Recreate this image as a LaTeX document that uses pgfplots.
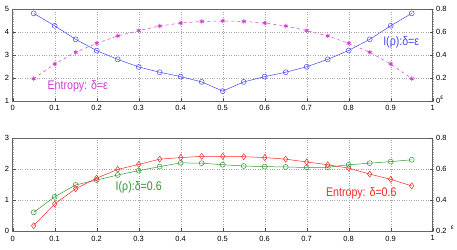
\documentclass[border=0pt]{standalone}
\usepackage{pgfplots}
\pgfplotsset{compat=1.18}
\usepackage{fontspec}
\setmainfont{Liberation Sans}
\definecolor{cblue}{RGB}{70,70,255}
\definecolor{cmag}{RGB}{210,60,210}
\definecolor{cred}{RGB}{255,40,40}
\definecolor{cgreen}{RGB}{50,150,50}
\pgfplotsset{
  base/.style={
    scale only axis, width=420pt,
    xmin=0, xmax=1,
    xtick={0,0.1,...,1},
    xticklabels={0,0.1,0.2,0.3,0.4,0.5,0.6,0.7,0.8,0.9,1},
    tick align=inside,
    major tick length=3pt,
    tick style={black!70, line width=0.4pt},
    axis line style={black!60, line width=0.8pt},
    ticklabel style={font=\fontsize{7.5}{8}\selectfont},
    /pgf/number format/assume math mode=true,
    grid=major,
    major grid style={black!35, dotted, line width=0.4pt},
    xtick pos=bottom,
    ytick pos=left,
    xticklabel style={yshift=-1pt},
  },
  every axis plot/.append style={line width=0.5pt},
}
\begin{document}
\begin{tikzpicture}
\path[use as bounding box] (0pt,0pt) rectangle (457pt,-249pt);
% ---------- top ----------
\begin{axis}[base, height=92pt, at={(12.7pt,-101pt)}, anchor=south west,
  ymin=1, ymax=5, ytick={1,2,3,4,5}, clip=false]
\addplot[color=cblue, mark=o, mark size=2.5pt] coordinates {
(0.05,4.81)(0.10,4.27)(0.15,3.68)(0.20,3.19)(0.25,2.81)(0.30,2.48)(0.35,2.25)(0.40,2.06)(0.45,1.83)(0.50,1.43)
(0.55,1.83)(0.60,2.06)(0.65,2.25)(0.70,2.49)(0.75,2.81)(0.80,3.20)(0.85,3.68)(0.90,4.27)(0.95,4.81)};
\addplot[color=cmag, dashed, mark=asterisk, mark size=2.3pt, mark options={solid, line width=0.8pt}] coordinates {
(0.05,1.97)(0.10,2.61)(0.15,3.12)(0.20,3.51)(0.25,3.83)(0.30,4.06)(0.35,4.26)(0.40,4.39)(0.45,4.46)(0.50,4.48)
(0.55,4.46)(0.60,4.39)(0.65,4.26)(0.70,4.06)(0.75,3.83)(0.80,3.51)(0.85,3.12)(0.90,2.61)(0.95,1.97)};
\node[text=cmag, font=\fontsize{12.5}{13}\selectfont, xscale=0.85] at (axis cs:0.155,1.63) {Entropy: δ=ε};
\node[text=cblue, font=\fontsize{12.5}{13}\selectfont, xscale=0.85] at (axis cs:0.925,3.57) {I(ρ):δ=ε};
\end{axis}
\begin{axis}[base, height=92pt, at={(12.7pt,-101pt)}, anchor=south west,
  ymin=0, ymax=0.8, ytick={0,0.2,0.4,0.6,0.8},
  yticklabels={0,0.2,0.4,0.6,0.8},
  ytick pos=right, grid=none, xticklabels={}, xtick pos=bottom,
  axis line style={draw=none}, clip=false]
\node[font=\fontsize{6.5}{7}\selectfont, anchor=west] at (axis cs:1.01,0.03) {ε};
\end{axis}
% ---------- bottom ----------
\begin{axis}[base, height=93.3pt, at={(12.7pt,-231.3pt)}, anchor=south west,
  ymin=0, ymax=3, ytick={0,1,2,3}, clip=false]
\addplot[color=cgreen, mark=o, mark size=2.5pt] coordinates {
(0.05,0.61)(0.10,1.11)(0.15,1.49)(0.20,1.65)(0.25,1.81)(0.30,1.95)(0.35,2.08)(0.40,2.20)(0.45,2.19)(0.50,2.14)
(0.55,2.10)(0.60,2.08)(0.65,2.07)(0.70,2.05)(0.75,2.06)(0.80,2.14)(0.85,2.19)(0.90,2.24)(0.95,2.30)};
\addplot[color=cred, mark=diamond, mark size=3pt] coordinates {
(0.05,0.18)(0.10,0.88)(0.15,1.37)(0.20,1.71)(0.25,1.99)(0.30,2.15)(0.35,2.32)(0.40,2.37)(0.45,2.41)(0.50,2.41)
(0.55,2.40)(0.60,2.37)(0.65,2.32)(0.70,2.23)(0.75,2.14)(0.80,2.03)(0.85,1.84)(0.90,1.67)(0.95,1.46)};
\node[text=cgreen, font=\fontsize{12.5}{13}\selectfont, xscale=0.85] at (axis cs:0.30,1.41) {I(ρ):δ=0.6};
\node[text=cred, font=\fontsize{12.5}{13}\selectfont, xscale=0.85] at (axis cs:0.83,1.22) {Entropy: δ=0.6};
\end{axis}
\begin{axis}[base, height=93.3pt, at={(12.7pt,-231.3pt)}, anchor=south west,
  ymin=0.2, ymax=0.8, ytick={0.2,0.4,0.6,0.8},
  yticklabels={0.2,0.4,0.6,0.8},
  ytick pos=right, grid=none, xticklabels={}, xtick pos=bottom,
  axis line style={draw=none}, clip=false]
\node[font=\fontsize{6.5}{7}\selectfont, anchor=west] at (axis cs:1.035,0.225) {ε};
\end{axis}
\end{tikzpicture}
\end{document}
